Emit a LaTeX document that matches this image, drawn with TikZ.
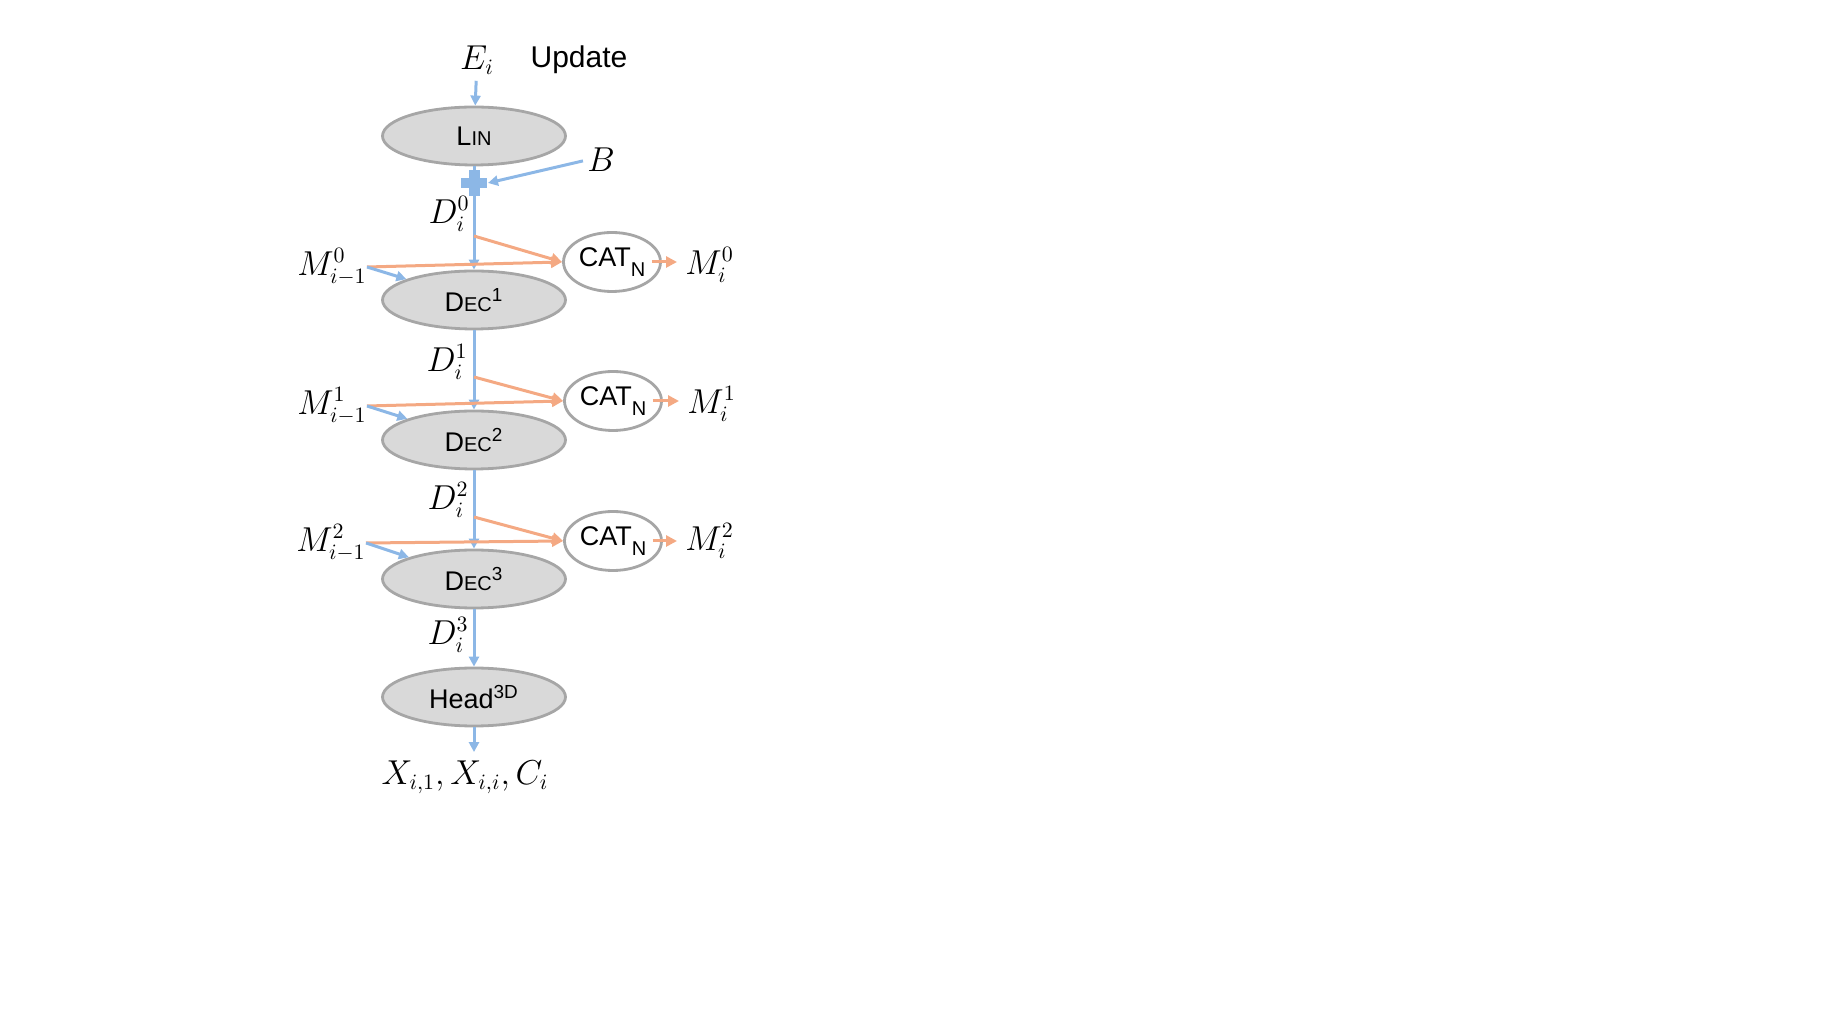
\documentclass[tikz,border=0pt]{standalone}
\usepackage{fontspec}
\setsansfont{Liberation Sans}
\usetikzlibrary{shapes.geometric,arrows.meta}
\definecolor{bl}{HTML}{8CB7E6}
\definecolor{org}{HTML}{F4A983}
\definecolor{bfill}{HTML}{D9D9D9}
\definecolor{bdr}{HTML}{A6A6A6}
\newcommand{\smc}[1]{{\fontsize{10}{11}\selectfont #1}}
\newcommand{\catlabel}{CAT\raisebox{-0.35em}{\smc{N}}}
\begin{document}
\begin{tikzpicture}[x=0.5pt,y=-0.5pt,
 blk/.style={ellipse, draw=bdr, fill=bfill, line width=1.4pt, minimum width=91.5pt, minimum height=29pt, inner sep=0pt, font=\sffamily\fontsize{13.5}{15}\selectfont},
 catn/.style={ellipse, draw=bdr, fill=white, line width=1.4pt, minimum width=48.5pt, minimum height=29.5pt, inner sep=0pt, font=\sffamily\fontsize{13.5}{15}\selectfont},
 lbl/.style={inner sep=0pt, font=\fontsize{16}{18}\selectfont},
 barr/.style={draw=bl, line width=1.5pt, -{Triangle[length=5pt,width=5pt]}},
 oarr/.style={draw=org, line width=1.5pt, -{Triangle[length=5.5pt,width=5.5pt]}},
]
\useasboundingbox (0,0) rectangle (1842,1036);
% top
\node[lbl] (e) at (477,60) {$E_i$};
\node[inner sep=0pt, font=\sffamily\fontsize{15}{17}\selectfont] (upd) at (579,60) {Update};
\node[blk] (lin) at (474,136) {L\smc{IN}};
\coordinate (plus) at (474,183);
\node[lbl] (b) at (601,160) {$B$};
% row 1
\node[lbl, anchor=east] (d0) at (470,214) {$D_i^0$};
\coordinate (s1) at (474,236);
\node[catn] (c1) at (612,262) {\catlabel};
\node[lbl, anchor=east] (mp0) at (367,267) {$M^0_{i-1}$};
\node[lbl, anchor=west] (m0) at (685,265) {$M^0_i$};
\node[blk] (dec1) at (474,300) {D\smc{EC}\textsuperscript{1}};
% row 2
\node[lbl, anchor=east] (d1) at (468,362) {$D_i^1$};
\coordinate (s2) at (474,377);
\node[catn] (c2) at (613,401) {\catlabel};
\node[lbl, anchor=east] (mp1) at (367,406) {$M^1_{i-1}$};
\node[lbl, anchor=west] (m1) at (687,404) {$M^1_i$};
\node[blk] (dec2) at (474,440) {D\smc{EC}\textsuperscript{2}};
% row 3
\node[lbl, anchor=east] (d2) at (469,500) {$D_i^2$};
\coordinate (s3) at (474,517);
\node[catn] (c3) at (613,541) {\catlabel};
\node[lbl, anchor=east] (mp2) at (366,543) {$M^2_{i-1}$};
\node[lbl, anchor=west] (m2) at (685,541) {$M^2_i$};
\node[blk] (dec3) at (474,579) {D\smc{EC}\textsuperscript{3}};
% bottom
\node[lbl, anchor=east] (d3) at (469,635) {$D_i^3$};
\node[blk] (head) at (474,697) {Head\textsuperscript{3D}};
\node[lbl] (out) at (465,777) {$X_{i,1},X_{i,i},C_i$};

% blue main path
\draw[barr, shorten <=3pt] (e) -- (lin);
\draw[bl, line width=1.5pt] (lin) -- (plus);
\fill[bl] (plus) ++(-13,-5) rectangle ++(26,10);
\fill[bl] (plus) ++(-5.5,-13) rectangle ++(11,26);
\draw[barr, shorten <=2pt] (b.west) -- ([xshift=7pt]plus);
\draw[barr] (plus) -- (dec1);
\draw[barr] (dec1) -- (dec2);
\draw[barr] (dec2) -- (dec3);
\draw[barr] (dec3) -- (head);
\draw[barr, shorten >=4pt] (head) -- (head.south |- out.north);

% row connectors
\foreach \s/\c/\mp/\m/\d in {s1/c1/mp0/m0/dec1, s2/c2/mp1/m1/dec2, s3/c3/mp2/m2/dec3}{
  \draw[oarr] (\s) -- (\c.west);
  \draw[oarr] (\mp.east) -- (\c.west);
  \draw[barr] (\mp.east) -- (\d);
  \draw[oarr, shorten >=4pt] ([xshift=-5pt]\c.east) -- (\c.east -| \m.west);
}
\end{tikzpicture}
\end{document}
